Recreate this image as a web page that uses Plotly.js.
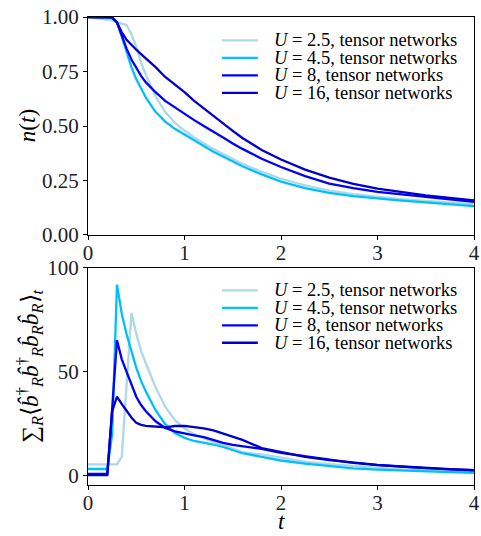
<!DOCTYPE html>
<html>
<head>
<meta charset="utf-8">
<script src="https://cdn.plot.ly/plotly-3.0.1.min.js"></script>
<style>
  html, body { margin: 0; padding: 0; background: #ffffff; }
  #chart { width: 481px; height: 536px; }
</style>
</head>
<body>
<div id="chart"></div>
<script>
// Time grid shared by all series
const t = [0, 0.1, 0.2, 0.25, 0.3, 0.35, 0.4, 0.45, 0.5, 0.55, 0.6, 0.7, 0.8, 0.9, 1.0,
           1.1, 1.2, 1.3, 1.4, 1.5, 1.6, 1.8, 2.0, 2.25, 2.5, 2.75, 3.0, 3.25, 3.5, 3.75, 4.0];

const seriesU = ['2.5', '4.5', '8', '16'];
const seriesColors = ['#add8e6', '#00bfff', '#0000ff', '#0000cd'];

// Occupation n(t)
const nU25 = [1.0, 0.995, 0.99, 0.985, 0.975, 0.97, 0.963, 0.92, 0.864, 0.79, 0.735, 0.635, 0.565, 0.515, 0.478,
              0.447, 0.42, 0.395, 0.372, 0.35, 0.327, 0.29, 0.258, 0.228, 0.203, 0.187, 0.175, 0.165, 0.156, 0.148, 0.141];
const nU45 = [1.0, 1.0, 0.998, 0.995, 0.975, 0.91, 0.84, 0.77, 0.715, 0.67, 0.63, 0.565, 0.52, 0.487, 0.46,
              0.433, 0.407, 0.382, 0.36, 0.338, 0.315, 0.278, 0.245, 0.215, 0.193, 0.178, 0.167, 0.158, 0.15, 0.141, 0.132];
const nU8  = [1.0, 1.0, 1.0, 0.998, 0.975, 0.915, 0.855, 0.805, 0.765, 0.73, 0.70, 0.655, 0.615, 0.585, 0.555,
              0.527, 0.50, 0.475, 0.447, 0.42, 0.395, 0.35, 0.312, 0.27, 0.236, 0.215, 0.198, 0.186, 0.175, 0.163, 0.152];
const nU16 = [1.0, 1.0, 1.0, 0.998, 0.975, 0.93, 0.895, 0.87, 0.85, 0.83, 0.81, 0.77, 0.725, 0.69, 0.655,
              0.615, 0.58, 0.545, 0.51, 0.478, 0.445, 0.39, 0.346, 0.30, 0.263, 0.235, 0.213, 0.196, 0.182, 0.17, 0.159];

// Double occupancy sum
const dU25 = [5.4, 5.4, 5.4, 5.4, 5.4, 9.1, 43, 78.4, 68.5, 60, 54, 42.5, 33.2, 26.8, 22.8,
              20, 18, 16.3, 14.6, 12.8, 11.3, 10.2, 8.6, 6.7, 5.6, 4.6, 3.7, 3.0, 2.5, 2.0, 1.6];
const dU45 = [3.2, 3.2, 3.2, 20, 92, 78, 68, 60, 52, 45.5, 40.5, 31.5, 24.8, 20.5, 18.2,
              16.7, 16, 15, 13.8, 12.2, 10.8, 9.1, 7.3, 5.8, 4.6, 3.5, 2.9, 2.4, 2.0, 1.7, 1.4];
const dU8  = [0.8, 0.8, 0.8, 32, 65.2, 56, 50, 44, 38, 34, 31, 26.2, 23, 21.3, 20.2,
              19.4, 18.5, 17, 15.8, 14.8, 14.2, 12.9, 11, 9.3, 7.6, 6.2, 5.1, 4.2, 3.6, 3.0, 2.6];
const dU16 = [0.3, 0.3, 0.3, 31, 38, 34.5, 31, 28, 25.5, 24.5, 24, 23.5, 23.3, 23.9, 24,
              23.4, 22.8, 21.8, 20.3, 19, 17.2, 13.3, 11.4, 9.0, 7.5, 6.2, 5.2, 4.4, 3.7, 3.1, 2.7];

const nSeries = [nU25, nU45, nU8, nU16];
const dSeries = [dU25, dU45, dU8, dU16];

const FONT = 'Liberation Serif, Times New Roman, serif';
const labelFor = u => '<i>U</i> = ' + u + ', tensor networks';

const traces = [];
nSeries.forEach((ys, i) => traces.push({
  x: t, y: ys, xaxis: 'x', yaxis: 'y', mode: 'lines', name: labelFor(seriesU[i]),
  line: { color: seriesColors[i], width: 2.3 }, showlegend: false
}));
dSeries.forEach((ys, i) => traces.push({
  x: t, y: ys, xaxis: 'x2', yaxis: 'y2', mode: 'lines', name: labelFor(seriesU[i]),
  line: { color: seriesColors[i], width: 2.3 }, showlegend: false
}));

// Hand-placed legend blocks (one per panel), drawn in axis-domain coordinates
const shapes = [];
const annotations = [];
function addLegend(xref, yref, top, step) {
  seriesU.forEach((u, i) => {
    const yy = top - i * step;
    shapes.push({ type: 'line', xref: xref, yref: yref, x0: 0.347, x1: 0.440, y0: yy, y1: yy,
                  line: { color: seriesColors[i], width: 2.3 } });
    annotations.push({ xref: xref, yref: yref, x: 0.476, y: yy, xanchor: 'left', yanchor: 'middle',
                       text: labelFor(u), showarrow: false, font: { family: FONT, size: 18.5, color: '#000' } });
  });
}
addLegend('x domain', 'y domain', 0.893, 0.0805);
addLegend('x2 domain', 'y2 domain', 0.897, 0.0805);

// Axis titles
annotations.push({
  xref: 'paper', yref: 'y domain', x: -0.155, y: 0.5, xanchor: 'center', yanchor: 'middle',
  textangle: -90, showarrow: false,
  text: '<i>n</i>(<i>t</i>)',
  font: { family: FONT, size: 23, color: '#000' }
});
annotations.push({
  xref: 'paper', yref: 'y2 domain', x: -0.150, y: 0.545, xanchor: 'center', yanchor: 'middle',
  textangle: -90, showarrow: false,
  text: '∑<sub><i>R</i></sub>⟨<i>b̂</i><sup>†</sup><sub><i>R</i></sub><i>b̂</i><sup>†</sup><sub><i>R</i></sub><i>b̂</i><sub><i>R</i></sub><i>b̂</i><sub><i>R</i></sub>⟩<sub><i>t</i></sub>',
  font: { family: FONT, size: 23.5, color: '#000' }
});
annotations.push({
  xref: 'x2 domain', yref: 'paper', x: 0.5, y: -0.108, xanchor: 'center', yanchor: 'bottom',
  showarrow: false, text: '<i>t</i>',
  font: { family: FONT, size: 23, color: '#000' }
});

const axisCommon = {
  showline: true, linecolor: '#000', linewidth: 1, mirror: true,
  ticks: 'outside', ticklen: 4, tickwidth: 1, tickcolor: '#000',
  showgrid: false, zeroline: false,
  tickfont: { family: FONT, size: 21, color: '#222' }
};

const layout = {
  width: 481, height: 536,
  margin: { l: 88, r: 7, t: 17, b: 51 },
  paper_bgcolor: '#fff', plot_bgcolor: '#fff',
  showlegend: false,
  xaxis: Object.assign({}, axisCommon, { domain: [0, 1], range: [0, 4], tickvals: [0, 1, 2, 3, 4],
                                         anchor: 'y', ticklabelstandoff: -5 }),
  yaxis: Object.assign({}, axisCommon, { domain: [0.5342, 1], range: [0, 1], tickvals: [0, 0.25, 0.5, 0.75, 1],
                                         tickformat: '.2f', anchor: 'x' }),
  xaxis2: Object.assign({}, axisCommon, { domain: [0, 1], range: [0, 4], tickvals: [0, 1, 2, 3, 4],
                                          anchor: 'y2', ticklabelstandoff: -5 }),
  yaxis2: Object.assign({}, axisCommon, { domain: [0, 0.4637], range: [-4.5, 100], tickvals: [0, 50, 100],
                                          anchor: 'x2' }),
  shapes: shapes,
  annotations: annotations
};

Plotly.newPlot('chart', traces, layout, { displayModeBar: false, staticPlot: true });
</script>
</body>
</html>
